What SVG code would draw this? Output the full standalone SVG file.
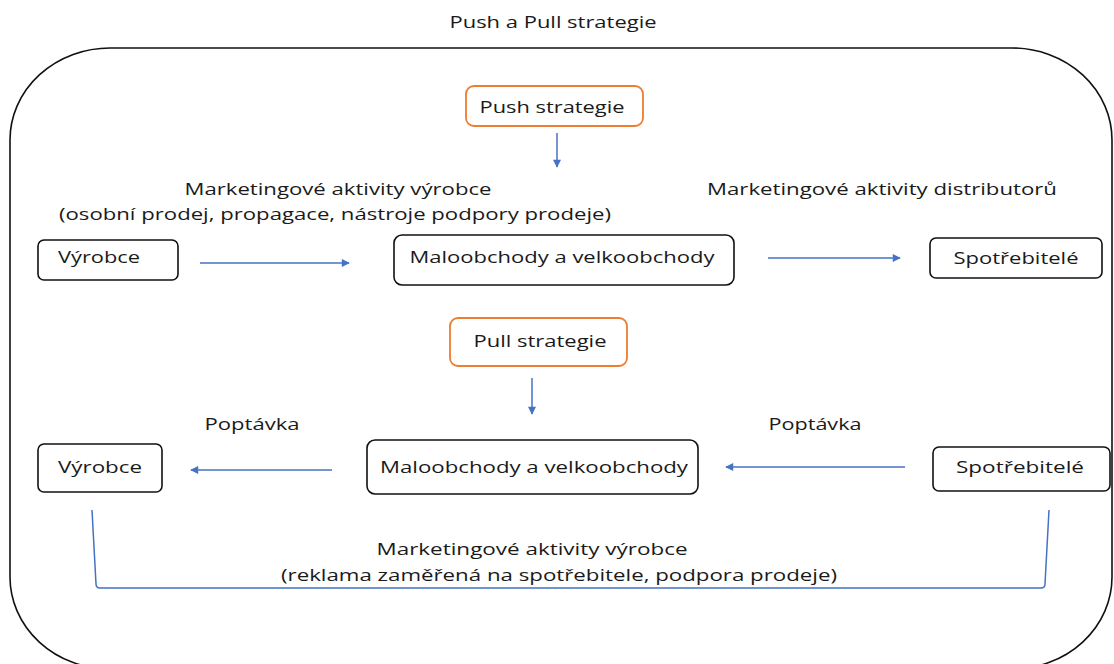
<svg xmlns="http://www.w3.org/2000/svg" width="1114" height="664" viewBox="0 0 1114 664">
<style>
text{font-family:"Open Sans","DejaVu Sans",sans-serif;font-size:17px;fill:#1a1a1a;text-anchor:middle}
.cal{font-family:"Open Sans","Liberation Sans",sans-serif;font-size:17px}
.box{fill:#fff;stroke:#111;stroke-width:1.6}
.obox{fill:#fff;stroke:#ED7D31;stroke-width:1.8}
.con{fill:none;stroke:#4472C4;stroke-width:1.5}
</style>
<defs>
<marker id="ah" viewBox="0 0 10 10" refX="9" refY="5" markerWidth="9" markerHeight="8" markerUnits="userSpaceOnUse" orient="auto"><path d="M0,0 L10,5 L0,10 z" fill="#4472C4"/></marker>
</defs>
<rect width="1114" height="664" fill="#fff"/>
<g id="frame">
<rect x="10" y="48" width="1102" height="621" rx="100" ry="92" fill="none" stroke="#111" stroke-width="1.6"/>
<text class="cal" x="553" y="28" textLength="207" lengthAdjust="spacingAndGlyphs">Push a Pull strategie</text>
</g>
<g id="push">
<rect class="obox" x="466" y="86" width="177" height="40" rx="8"/>
<text x="552" y="113" textLength="145" lengthAdjust="spacingAndGlyphs">Push strategie</text>
</g>
<g id="label-push-vyrobce">
<text x="338" y="195" textLength="307" lengthAdjust="spacingAndGlyphs">Marketingové aktivity výrobce</text>
<text x="335" y="220" textLength="552" lengthAdjust="spacingAndGlyphs">(osobní prodej, propagace, nástroje podpory prodeje)</text>
</g>
<g id="label-push-distrib">
<text x="882" y="195" textLength="350" lengthAdjust="spacingAndGlyphs">Marketingové aktivity distributorů</text>
</g>
<g id="vyrobce1">
<rect class="box" x="38" y="240" width="140" height="40" rx="6"/>
<text x="99" y="263" textLength="82" lengthAdjust="spacingAndGlyphs">Výrobce</text>
</g>
<g id="malo1">
<rect class="box" x="394" y="235" width="340" height="50" rx="8"/>
<text x="562" y="263" textLength="305" lengthAdjust="spacingAndGlyphs">Maloobchody a velkoobchody</text>
</g>
<g id="spotr1">
<rect class="box" x="930" y="238" width="172" height="40" rx="6"/>
<text x="1016" y="264" textLength="125" lengthAdjust="spacingAndGlyphs">Spotřebitelé</text>
</g>
<g id="pull">
<rect class="obox" x="450" y="318" width="177" height="48" rx="8"/>
<text x="540" y="347" textLength="133" lengthAdjust="spacingAndGlyphs">Pull strategie</text>
</g>
<g id="label-poptavka">
<text x="252" y="430" textLength="95" lengthAdjust="spacingAndGlyphs">Poptávka</text>
<text x="815" y="430" textLength="93" lengthAdjust="spacingAndGlyphs">Poptávka</text>
</g>
<g id="vyrobce2">
<rect class="box" x="38" y="444" width="124" height="48" rx="6"/>
<text x="100" y="473" textLength="84" lengthAdjust="spacingAndGlyphs">Výrobce</text>
</g>
<g id="malo2">
<rect class="box" x="367" y="440" width="331" height="54" rx="8"/>
<text x="534" y="473" textLength="308" lengthAdjust="spacingAndGlyphs">Maloobchody a velkoobchody</text>
</g>
<g id="spotr2">
<rect class="box" x="933" y="447" width="177" height="44" rx="6"/>
<text x="1020" y="473" textLength="128" lengthAdjust="spacingAndGlyphs">Spotřebitelé</text>
</g>
<g id="label-pull-vyrobce">
<text class="cal" x="532" y="555" textLength="311" lengthAdjust="spacingAndGlyphs">Marketingové aktivity výrobce</text>
<text class="cal" x="559" y="581" textLength="556" lengthAdjust="spacingAndGlyphs">(reklama zaměřená na spotřebitele, podpora prodeje)</text>
</g>
<g id="connectors">
<line class="con" x1="557" y1="133" x2="557" y2="167" marker-end="url(#ah)"/>
<line class="con" x1="200" y1="263" x2="349" y2="263" marker-end="url(#ah)"/>
<line class="con" x1="768" y1="258" x2="900" y2="258" marker-end="url(#ah)"/>
<line class="con" x1="532" y1="378" x2="532" y2="414" marker-end="url(#ah)"/>
<line class="con" x1="332" y1="470" x2="191" y2="470" marker-end="url(#ah)"/>
<line class="con" x1="905" y1="467" x2="726" y2="467" marker-end="url(#ah)"/>
<path class="con" d="M92,510 L96,584 Q96,588 100,588 L1041,588 Q1045,588 1045,584 L1049,510"/>
</g>
</svg>
